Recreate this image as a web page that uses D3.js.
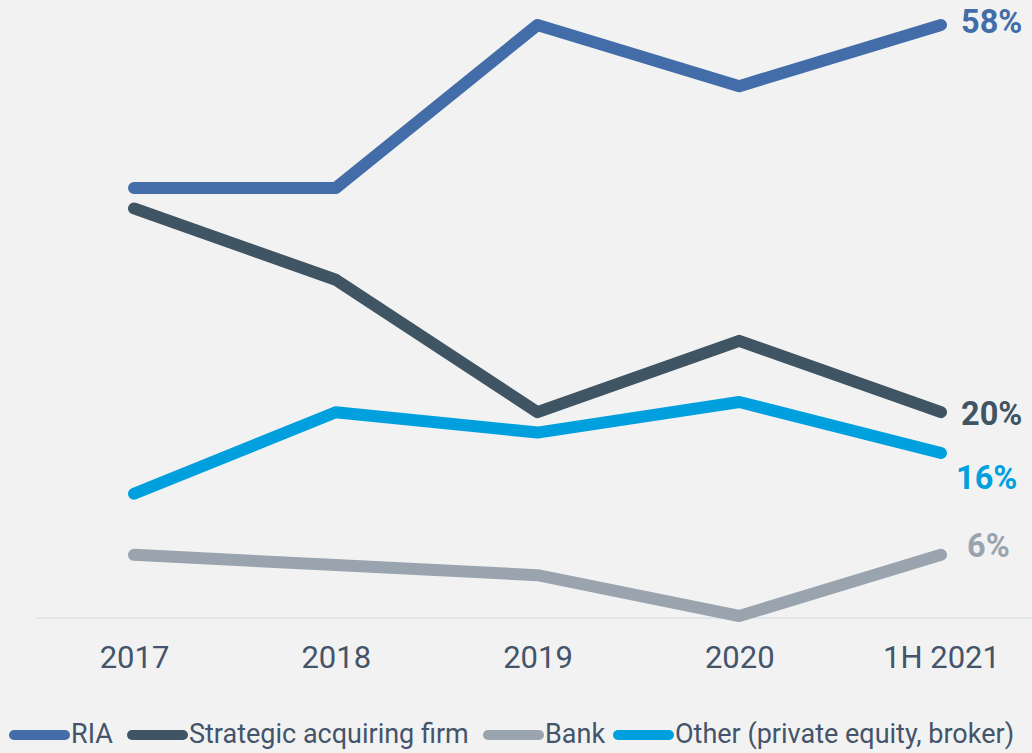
<!DOCTYPE html>
<html><head><meta charset="utf-8">
<script src="https://cdn.jsdelivr.net/npm/d3@7"></script>
<style>html,body{margin:0;padding:0;background:#f2f2f2;}svg{display:block;}</style>
</head><body>
<svg id="chart" width="1032" height="753"></svg>
<script>
const categories = ["2017", "2018", "2019", "2020", "1H 2021"];
const seriesNames = ["RIA", "Strategic acquiring firm", "Bank", "Other (private equity, broker)"];
const riaValues = [42, 42, 58, 52, 58];
const strategicValues = [40, 33, 20, 27, 20];
const bankValues = [6, 5, 4, 0, 6];
const otherValues = [12, 20, 18, 21, 16];
const endLabels = ["58%", "20%", "6%", "16%"];
const colors = ["#426DA9", "#405563", "#99A4AE", "#00A0DF"];

const series = [riaValues, strategicValues, bankValues, otherValues].map((v, i) => ({
  name: seriesNames[i], values: v, color: colors[i], label: endLabels[i]
}));

const svg = d3.select("#chart");
svg.append("rect").attr("width", 1032).attr("height", 753).attr("fill", "#f2f2f2");

const x = d3.scalePoint().domain(categories).range([134, 941]);
const y = d3.scaleLinear().domain([0, 58]).range([616, 25]);

// baseline
svg.append("line").attr("x1", 36).attr("x2", 1032).attr("y1", 618).attr("y2", 618)
  .attr("stroke", "#dde3e8").attr("stroke-width", 1.5);

// x axis labels
const xAxis = d3.axisBottom(x).tickSize(0).tickPadding(0);
const gx = svg.append("g").attr("transform", "translate(0,668)").call(xAxis);
gx.select(".domain").remove();
gx.selectAll("text").attr("font-family", "Roboto, sans-serif").attr("font-size", 31)
  .attr("fill", "#44546A").attr("dy", "0");

const line = d3.line().x((d, i) => x(categories[i])).y(d => y(d));

// draw order: bank, other, strategic, ria
[2, 3, 1, 0].forEach(i => {
  const s = series[i];
  svg.append("path").datum(s.values).attr("d", line).attr("fill", "none")
    .attr("stroke", s.color).attr("stroke-width", 12)
    .attr("stroke-linecap", "round").attr("stroke-linejoin", "round");
});

// end labels
const labelOffsets = [-4, 1.5, -9.5, 24.5];
const labelX = [961, 961, 967, 956];
series.forEach((s, i) => {
  svg.append("text").attr("x", labelX[i]).attr("y", y(s.values[4]) + labelOffsets[i])
    .attr("dy", "0.355em").attr("font-family", "Roboto, sans-serif").attr("font-weight", "bold")
    .attr("font-size", 32.5).attr("fill", s.color).text(s.label);
});

// legend
const swatchX = [9, 127, 483, 613];
const legend = svg.append("g");
series.forEach((s, i) => {
  legend.append("line").attr("x1", swatchX[i] + 5).attr("x2", swatchX[i] + 56)
    .attr("y1", 735).attr("y2", 735).attr("stroke", s.color).attr("stroke-width", 10)
    .attr("stroke-linecap", "round");
  legend.append("text").attr("x", swatchX[i] + 62).attr("y", 743)
    .attr("font-family", "Roboto, sans-serif").attr("font-size", 27).attr("fill", "#44546A")
    .text(s.name);
});
</script>
</body></html>
